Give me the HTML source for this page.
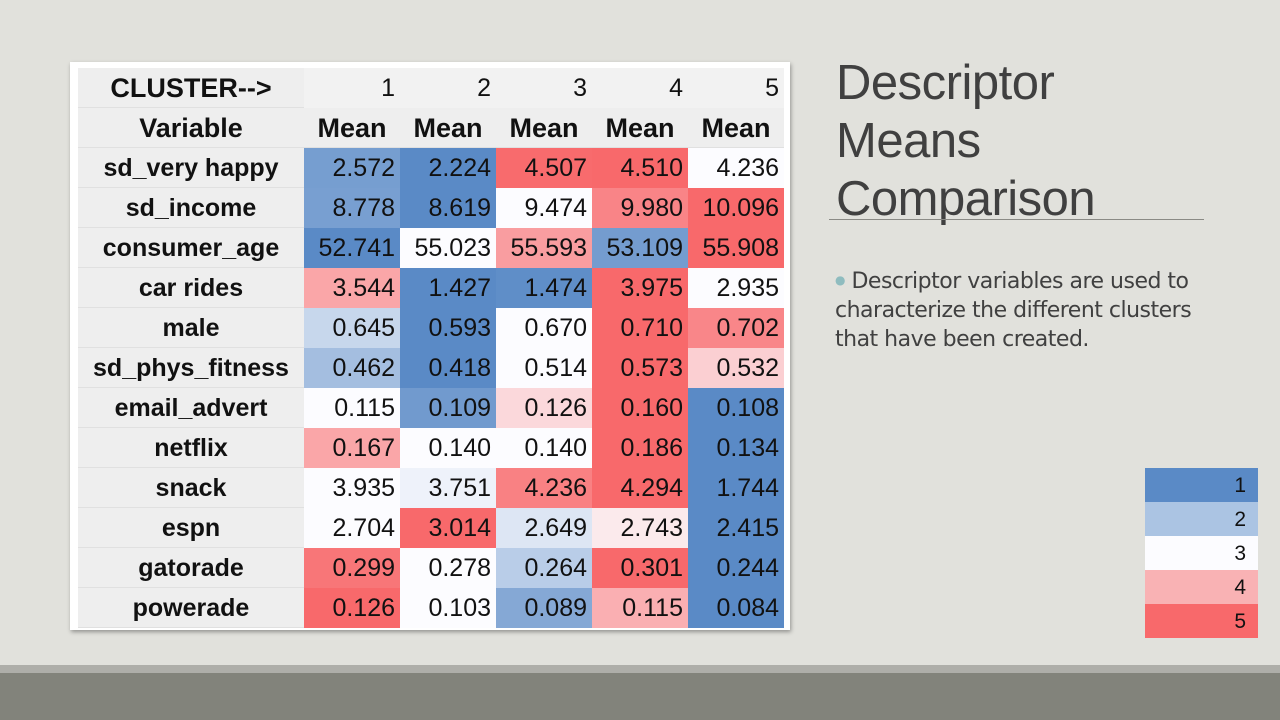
<!DOCTYPE html>
<html><head><meta charset="utf-8">
<style>
body{margin:0;width:1280px;height:720px;background:#e1e1dc;position:relative;overflow:hidden;font-family:"Liberation Sans",sans-serif;}
.abs{position:absolute;}
#frame{left:70px;top:62px;width:720px;height:568px;background:#fff;box-shadow:1px 2px 4px rgba(0,0,0,0.35);}
.cell{position:absolute;box-sizing:border-box;height:40px;line-height:40px;font-size:25px;color:#111;white-space:nowrap;overflow:hidden;}
.lab{background:#eeeeee;text-align:center;font-weight:bold;border-bottom:1px solid #e0e0e0;}
.num{text-align:right;padding-right:5px;}
#title{left:836px;top:54px;font-size:49px;line-height:58px;color:#404040;font-family:"Liberation Sans",sans-serif;font-weight:normal;letter-spacing:-0.5px;}
#rule{left:829px;top:219px;width:375px;height:1px;background:#8a8a85;}
#bullet{left:835px;top:266px;width:390px;font-size:22px;line-height:29px;color:#404040;font-family:"DejaVu Sans","Liberation Sans",sans-serif;letter-spacing:-0.5px;}
.leg{position:absolute;left:1145px;width:113px;height:34px;line-height:36px;text-align:right;padding-right:12px;box-sizing:border-box;font-size:21px;color:#111;}
</style></head><body>
<div id="frame" class="abs"></div>
<div id="title" class="abs">Descriptor<br>Means<br>Comparison</div>
<div id="rule" class="abs"></div>
<div id="bullet" class="abs"><span style="color:#8fbcbf;font-size:12px;vertical-align:4px">●</span> Descriptor variables are used to characterize the different clusters that have been created.</div>
<div class="leg" style="top:468px;background:#5a8ac6">1</div>
<div class="leg" style="top:502px;background:#abc4e3">2</div>
<div class="leg" style="top:536px;background:#fcfcff">3</div>
<div class="leg" style="top:570px;background:#f9b2b4">4</div>
<div class="leg" style="top:604px;background:#f8696b">5</div>
<div class="abs" style="left:0;top:665px;width:1280px;height:8px;background:#aeaea9"></div>
<div class="abs" style="left:0;top:673px;width:1280px;height:47px;background:#82837b"></div>
<script>
const variables=["sd_very happy","sd_income","consumer_age","car rides","male","sd_phys_fitness","email_advert","netflix","snack","espn","gatorade","powerade"];
const clusters=["1","2","3","4","5"];
const c1=[2.572,8.778,52.741,3.544,0.645,0.462,0.115,0.167,3.935,2.704,0.299,0.126];
const c2=[2.224,8.619,55.023,1.427,0.593,0.418,0.109,0.140,3.751,3.014,0.278,0.103];
const c3=[4.507,9.474,55.593,1.474,0.670,0.514,0.126,0.140,4.236,2.649,0.264,0.089];
const c4=[4.510,9.980,53.109,3.975,0.710,0.573,0.160,0.186,4.294,2.743,0.301,0.115];
const c5=[4.236,10.096,55.908,2.935,0.702,0.532,0.108,0.134,1.744,2.415,0.244,0.084];
const series=[c1,c2,c3,c4,c5];
const frame=document.getElementById('frame');
const X0=8,LW=226,CW=96,Y0=6,RH=40;
const BLUE=[90,138,198],WHITE=[252,252,255],RED=[248,105,107];
function mix(a,b,t){return 'rgb('+a.map((v,i)=>Math.round(v+(b[i]-v)*t)).join(',')+')';}
function color(v,row){const s=row.slice().sort((a,b)=>a-b);const mn=s[0],md=s[2],mx=s[4];
 if(v<=md){return md===mn?mix(WHITE,WHITE,0):mix(BLUE,WHITE,(v-mn)/(md-mn));}
 return mix(WHITE,RED,(v-md)/(mx-md));}
function mk(cls,x,y,w,text,bg){const d=document.createElement('div');d.className='cell '+cls;d.style.left=x+'px';d.style.top=y+'px';d.style.width=w+'px';d.textContent=text;if(bg)d.style.background=bg;frame.appendChild(d);return d;}
let h=mk('lab',X0,Y0,LW,'CLUSTER-->');
h.style.fontSize='27px';


h=mk('lab',X0,Y0+RH,LW,'Variable');
h.style.fontSize='27px';


clusters.forEach((c,j)=>{
 let e=mk('num',X0+LW+j*CW,Y0,CW,c,'#f2f2f2');e.style.fontWeight='normal';
 
 
 e=mk('lab',X0+LW+j*CW,Y0+RH,CW,'Mean');
 e.style.fontSize='27px';
 
 
});
variables.forEach((v,i)=>{
 const y=Y0+RH*(i+2);
 let l=mk('lab',X0,y,LW,v);
 
 
 const row=series.map(s=>s[i]);
 series.forEach((s,j)=>{
  const e=mk('num',X0+LW+j*CW,y,CW,s[i].toFixed(3),color(s[i],row));
  
  
 });
});
</script>
</body></html>
